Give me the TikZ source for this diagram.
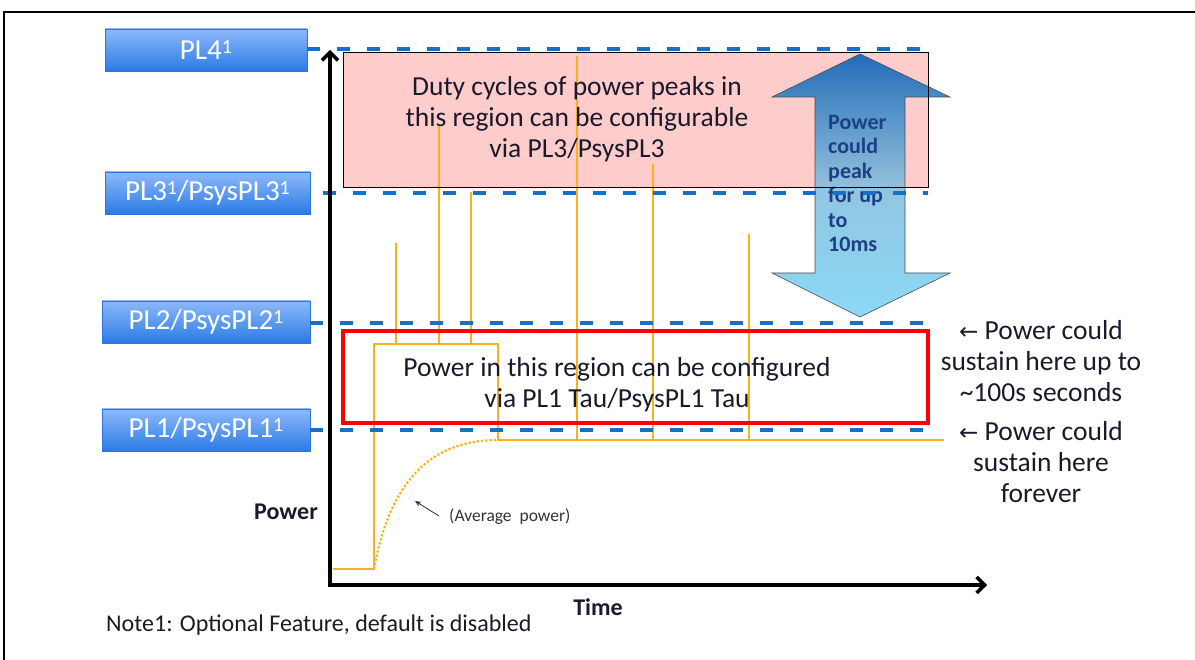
\documentclass[tikz,border=0pt]{standalone}
\usepackage{fontspec}
\setmainfont{Carlito}
\newfontfamily\symfont{DejaVu Sans}
\usetikzlibrary{arrows.meta}
\definecolor{dashblue}{HTML}{1770C4}
\definecolor{orng}{HTML}{F9B21B}
\definecolor{pinkfill}{HTML}{FFCCCC}
\definecolor{lbltop}{HTML}{8DB8FA}
\definecolor{lblbot}{HTML}{2A7BE6}
\definecolor{lblline}{HTML}{2C75D8}
\definecolor{arrtop}{HTML}{0B63B8}
\definecolor{arrmid}{HTML}{86BEDD}
\definecolor{arrbot}{HTML}{7DD5F5}
\definecolor{peaktext}{HTML}{1D3F86}
\definecolor{txt}{HTML}{1A1A2A}
\newcommand{\supone}{\raisebox{0.45ex}{\fontsize{20}{21}\selectfont 1}}
\begin{document}
\begin{tikzpicture}[x=1pt,y=-1pt,
  lbl/.style={draw=lblline, line width=0.8pt, top color=lbltop, bottom color=lblbot,
    text=white, minimum height=42pt, inner sep=0pt, font=\fontsize{29}{30}\selectfont},
  dashln/.style={draw=dashblue, line width=4pt, dash pattern=on 13pt off 17pt},
  orngln/.style={draw=orng, line width=2.5pt},
  bigtxt/.style={align=center, text=txt, font=\fontsize{27.5}{31}\selectfont},
  axisln/.style={line width=3.5pt, -{Straight Barb[length=8pt,width=16pt,line width=3.5pt]}}
]
\useasboundingbox (0,0) rectangle (1195,660);
% frame
\draw[line width=2.5pt] (4,660) -- (4,12) -- (1195,12);

% pink region
\fill[pinkfill] (343,53) rectangle (928,188);

% labels
\node[lbl, minimum width=202pt] (pl4) at (206,50) {PL4\supone};
\node[lbl, minimum width=205pt] (pl3) at (207.5,193) {PL3\supone/PsysPL3\supone};
\node[lbl, minimum width=208pt] (pl2) at (206,322) {PL2/PsysPL2\supone};
\node[lbl, minimum width=208pt] (pl1) at (206,430) {PL1/PsysPL1\supone};

% orange waveform
\coordinate (w0) at (333,569);
\coordinate (w1) at (374,569);
\coordinate (w2) at (374,344);
\coordinate (w3) at (498,344);
\coordinate (w4) at (498,440);
\coordinate (w5) at (944,440);
\draw[orngln] (w0) -- (w1) -- (w2) -- (w3) -- (w4) -- (w5);
% spikes
\foreach \x/\t/\b in {396/243/344, 439/125/344, 471/192/344, 577/56/440, 653/164/440, 749/234/440}
  \draw[orngln] (\x,\b) -- (\x,\t);
% average power curve
\draw[orng, line width=2.2pt, dotted] (w1) .. controls (392,470) and (440,440) .. (w4);

% pink text
\node[bigtxt] (duty) at (577,119) {Duty cycles of power peaks in\\this region can be configurable\\via PL3/PsysPL3};

% double arrow
\path[draw=black!70, line width=0.6pt, top color=arrtop, bottom color=arrbot, middle color=arrmid, fill opacity=0.9]
  (860,54) -- (950,97) -- (905,97) -- (905,273) -- (950,273) -- (860,317)
  -- (772,273) -- (815,273) -- (815,97) -- (772,97) -- cycle;
\node[anchor=north west, align=left, text=peaktext, inner sep=0pt,
  font=\bfseries\fontsize{22}{24.5}\selectfont] (peak) at (828,115) {Power\\could\\peak\\for up\\to\\10ms};

% pink border
\draw[black, line width=1pt] (343,53) rectangle (928,188);

% dashed levels
\coordinate (d4) at (928,49);
\coordinate (d3) at (928,193);
\coordinate (d2) at (928,323);
\coordinate (d1) at (928,430);
\draw[dashln] (pl4.east |- 0,49) -- (d4);
\draw[dashln] (pl3.east) ++(13,0) -- (d3);
\draw[dashln] (pl2.east |- 0,323) -- (d2);
\draw[dashln] (pl1.east) -- (d1);

% red region
\draw[red, line width=4pt] (343,331) rectangle (928,423);
\node[bigtxt] (cfg) at (617,384.5) {Power in this region can be configured\\via PL1 Tau/PsysPL1 Tau};

% axes
\coordinate (org) at (330,585);
\coordinate (ytop) at (330,50);
\coordinate (xend) at (987,585);
\draw[axisln] (org) -- (ytop);
\draw[axisln] ([xshift=-1.75pt]org) -- (xend);

% axis labels
\node[font=\bfseries\fontsize{24}{26}\selectfont, text=txt] (plab) at (286,512) {Power};
\node[font=\bfseries\fontsize{24}{26}\selectfont, text=txt] (tlab) at (598,607) {Time};

% average power note
\node[anchor=west, text=black!80, font=\fontsize{17.5}{19}\selectfont, inner sep=0pt] (avg) at (449,517) {(Average\ \ power)};
\coordinate (avgtip) at (415,501);
\draw[black!80, line width=0.8pt, -{Stealth[length=6pt,width=5pt]}] ([xshift=-10pt,yshift=1pt]avg.west) -- (avgtip);

% right side notes
\node[bigtxt] (sus1) at (1041,361) {{\symfont\fontsize{23}{31}\selectfont ←} Power could\\sustain here up to\\\textasciitilde100s seconds};
\node[bigtxt] (sus2) at (1041,462) {{\symfont\fontsize{23}{31}\selectfont ←} Power could\\sustain here\\forever};

% footnote
\node[anchor=west, text=txt, font=\fontsize{24}{26}\selectfont, inner sep=0pt] (note) at (106,625) {Note1: Optional Feature, default is disabled};
\end{tikzpicture}
\end{document}
